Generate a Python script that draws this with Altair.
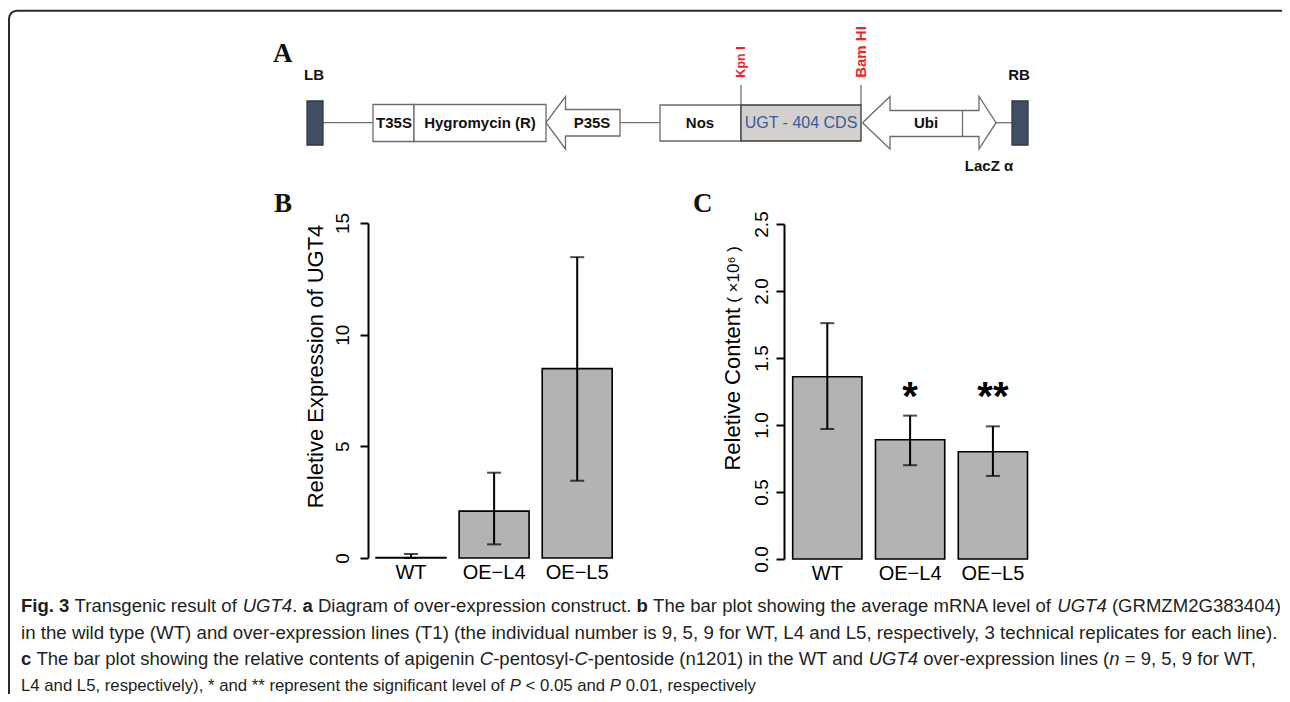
import altair as alt
import pandas as pd

# ---------------- chart values ----------------
lines = ["WT", "OE\u2212L4", "OE\u2212L5"]

expr_mean = [0.02, 2.10, 8.48]
expr_low = [0.00, 0.61, 3.46]
expr_high = [0.18, 3.82, 13.47]
expr_ticks = [0, 5, 10, 15]

cont_mean = [1.36, 0.89, 0.80]
cont_low = [0.97, 0.70, 0.62]
cont_high = [1.76, 1.07, 0.99]
cont_ticks = [0.0, 0.5, 1.0, 1.5, 2.0, 2.5]
signif = ["", "*", "**"]

# ---------------- construct diagram (drawing units) ----------------
box_name = ["LB", "T35S", "Hygromycin (R)", "Nos", "UGT - 404 CDS", "RB"]
box_x0 = [307, 373, 414, 660, 741, 1012]
box_x1 = [323, 414, 546, 741, 861, 1028]
box_y0 = [101, 104.5, 104.5, 105, 105, 101]
box_y1 = [145, 141.5, 141.5, 141, 141, 145]
box_fill = ["#3f4e62", "white", "white", "white", "#d3d0ce", "#3f4e62"]
box_stroke = ["#2e3848", "#6b6b6b", "#6b6b6b", "#6b6b6b", "#3a3a3a", "#2e3848"]

seg_x0 = [323, 620, 996, 741, 861, 962.5]
seg_x1 = [373, 660, 1012, 741, 861, 962.5]
seg_y0 = [122.7, 122.7, 122.7, 85, 85, 110.5]
seg_y1 = [122.7, 122.7, 122.7, 105, 105, 136.5]

p35s_x = [546, 565.5, 565.5, 620, 620, 565.5, 565.5, 546]
p35s_y = [122.7, 96.5, 109.5, 109.5, 136, 136, 149, 122.7]
ubi_x = [862.5, 890, 890, 979, 979, 996, 979, 979, 890, 890, 862.5]
ubi_y = [122.7, 96.5, 110.5, 110.5, 96.5, 122.7, 149, 136.5, 136.5, 149, 122.7]

lab_text = ["LB", "RB", "T35S", "Hygromycin (R)", "P35S", "Nos", "Ubi", "LacZ \u03b1"]
lab_x = [314, 1019, 394, 480, 592, 700, 926, 989]
lab_y = [75, 75, 123, 123, 123, 123, 123, 166]

site_text = ["Kpn I", "Bam HI"]
site_x = [741, 861]
site_y = [62, 52]

letter_text = ["A", "B", "C"]
letter_x = [273, 274, 693]
letter_y = [62, 212, 212]

# ---------------- caption ----------------
caption_lines = [
    [("bold", "Fig. 3"), ("reg", " Transgenic result of "), ("ital", "UGT4"), ("reg", ". "),
     ("bold", "a"), ("reg", " Diagram of over-expression construct. "), ("bold", "b"),
     ("reg", " The bar plot showing the average mRNA level of "), ("ital", "UGT4"),
     ("reg", " (GRMZM2G383404)")],
    [("reg", "in the wild type (WT) and over-expression lines (T1) (the individual number is 9, 5, 9 "
             "for WT, L4 and L5, respectively, 3 technical replicates for each line).")],
    [("bold", "c"), ("reg", " The bar plot showing the relative contents of apigenin "), ("ital", "C"),
     ("reg", "-pentosyl-"), ("ital", "C"), ("reg", "-pentoside (n1201) in the WT and "), ("ital", "UGT4"),
     ("reg", " over-expression lines ("), ("ital", "n"), ("reg", " = 9, 5, 9 for WT,")],
    [("reg", "L4 and L5, respectively), * and ** represent the significant level of "), ("ital", "P"),
     ("reg", " < 0.05 and "), ("ital", "P"), ("reg", " 0.01, respectively")],
]

# Arial-compatible advance widths (per 1000 em) for caption layout
REG = dict(zip(" !\"#$%&'()*+,-./", [278, 278, 355, 556, 556, 889, 667, 191, 333, 333, 389, 584, 278, 333, 278, 278]))
REG.update({d: 556 for d in "0123456789"})
REG.update(dict(zip(":;<=>?", [278, 278, 584, 584, 584, 556])))
REG.update(dict(zip("ABCDEFGHIJKLMNOPQRSTUVWXYZ",
                    [667, 667, 722, 722, 667, 611, 778, 722, 278, 500, 667, 556, 833, 722, 778, 667, 778, 722,
                     667, 611, 722, 667, 944, 667, 667, 611])))
REG.update(dict(zip("abcdefghijklmnopqrstuvwxyz",
                    [556, 556, 500, 556, 556, 278, 556, 556, 222, 222, 500, 222, 833, 556, 556, 556, 556, 333,
                     500, 278, 556, 500, 722, 500, 500, 500])))
BOLD = dict(REG)
BOLD.update({"F": 611, "i": 278, "g": 611, "a": 556, "b": 611, "c": 556})


def units(s, style):
    t = BOLD if style == "bold" else REG
    return sum(t.get(ch, 556) for ch in s)


cap_x0 = 13.0
cap_end = [1273.0, 1274.0, 1250.0, 748.0]
cap_base = [604, 631, 657, 683]
line_fs = [(cap_end[li] - cap_x0) * 1000.0 / sum(units(s, st) for st, s in segs)
           for li, segs in enumerate(caption_lines)]

cap_rows = []
for li, segs in enumerate(caption_lines):
    cum = 0
    f = line_fs[li]
    for st, s in segs:
        lead = len(s) - len(s.lstrip(" "))
        cap_rows.append({"x": cap_x0 + (cum + lead * 278) / 1000.0 * f, "y": cap_base[li],
                         "text": s.strip(), "style": st, "fs": f})
        cum += units(s, st)
cap_df = pd.DataFrame(cap_rows)

FONT = "Liberation Sans"

# ---------------- frame ----------------
frame = alt.Chart(pd.DataFrame({"a": [0]})).mark_rect(
    fill="white", fillOpacity=0, stroke="#2a2a2a", strokeWidth=2, cornerRadius=8
).encode(x=alt.value(1), x2=alt.value(1320), y=alt.value(2.7), y2=alt.value(760))

# ---------------- diagram ----------------
dx = alt.Scale(domain=[8, 1282], range=[0, 1274])
dy = alt.Scale(domain=[8, 694], range=[0, 686])

boxes_df = pd.DataFrame({"name": box_name, "x0": box_x0, "x1": box_x1, "y0": box_y0, "y1": box_y1,
                         "fill": box_fill, "stroke": box_stroke})
segs_df = pd.DataFrame({"x0": seg_x0, "x1": seg_x1, "y0": seg_y0, "y1": seg_y1})
poly_rows = []
for name, xs, ys in [("P35S", p35s_x, p35s_y), ("Ubi", ubi_x, ubi_y)]:
    for i, (px, py) in enumerate(zip(xs, ys)):
        poly_rows.append({"shape": name, "i": i, "x": px, "y": py})
poly_df = pd.DataFrame(poly_rows)
lab_df = pd.DataFrame({"text": lab_text, "x": lab_x, "y": lab_y})
site_df = pd.DataFrame({"text": site_text, "x": site_x, "y": site_y, "size": [12.5, 15]})
letter_df = pd.DataFrame({"text": letter_text, "x": letter_x, "y": letter_y})

DX = lambda f: alt.X(f, type="quantitative", scale=dx, axis=None)
DY = lambda f: alt.Y(f, type="quantitative", scale=dy, axis=None)

seg_layer = alt.Chart(segs_df).mark_rule(color="#6f6f6f", strokeWidth=1.3).encode(
    x=DX("x0"), x2="x1", y=DY("y0"), y2="y1")
box_layer = alt.Chart(boxes_df).mark_rect(strokeWidth=1.3).encode(
    x=DX("x0"), x2="x1", y=DY("y0"), y2="y1",
    fill=alt.Fill("fill:N", scale=None), stroke=alt.Stroke("stroke:N", scale=None))
poly_layer = alt.Chart(poly_df).mark_line(color="#6b6b6b", strokeWidth=1.3).encode(
    x=DX("x"), y=DY("y"), detail="shape:N", order="i:Q")
lab_layer = alt.Chart(lab_df).mark_text(font=FONT, fontWeight="bold", fontSize=15, color="#111111",
                                        align="center", baseline="middle").encode(
    x=DX("x"), y=DY("y"), text="text:N")
cds_layer = alt.Chart(pd.DataFrame({"text": ["UGT - 404 CDS"], "x": [801], "y": [123]})).mark_text(
    font=FONT, fontSize=16, color="#3b5b9b", align="center", baseline="middle").encode(
    x=DX("x"), y=DY("y"), text="text:N")
site_layer = alt.Chart(site_df).mark_text(font=FONT, fontWeight="bold", color="#e8262a", angle=270,
                                          align="center", baseline="middle").encode(
    x=DX("x"), y=DY("y"), text="text:N", size=alt.Size("size:Q", scale=None))
letter_layer = alt.Chart(letter_df).mark_text(font="Liberation Serif", fontWeight="bold", fontSize=27,
                                              color="#111111", align="left", baseline="alphabetic").encode(
    x=DX("x"), y=DY("y"), text="text:N")
diagram = alt.layer(seg_layer, box_layer, poly_layer, lab_layer, cds_layer, site_layer, letter_layer)


# ---------------- bar panels ----------------
def panel(means, lows, highs, ticks, fmt, yr, xr, pin, axis_x, title, title_x, title_y, lpad):
    df = pd.DataFrame({"line": lines, "mean": means, "low": lows, "high": highs, "sig": signif})
    xs = alt.Scale(domain=lines, range=xr, paddingInner=pin, paddingOuter=pin / 2)
    xax = alt.Axis(orient="bottom", offset=yr[0] - 686, title=None, domain=False, ticks=False, tickSize=0,
                   labelPadding=4, labelAngle=0, labelFontSize=20, labelBaseline="top", labelFont=FONT,
                   labelColor="black", zindex=2)
    ys = alt.Scale(domain=[ticks[0], ticks[-1]], range=yr, nice=False, zero=True)
    yax = alt.Axis(orient="left", offset=-axis_x, values=ticks, format=fmt, title=title, grid=False,
                   titleX=title_x, titleY=title_y, titleAngle=270, titleAlign="center",
                   titleBaseline="alphabetic", titleFont=FONT, titleFontSize=22, titleFontWeight="normal",
                   titleColor="black", labelAngle=270, labelAlign="center", labelBaseline="alphabetic",
                   labelPadding=lpad, labelFontSize=19, labelFont=FONT, labelColor="black", tickSize=8,
                   tickWidth=2, tickColor="black", domainColor="black", domainWidth=2, zindex=2)
    X = alt.X("line:N", scale=xs, axis=xax, sort=lines)
    Y = lambda f: alt.Y(f, type="quantitative", scale=ys, axis=yax)
    base = alt.Chart(df)
    bars = base.mark_bar(fill="#b3b3b3", stroke="black", strokeWidth=1.6).encode(x=X, y=Y("mean"))
    err = base.mark_rule(color="black", strokeWidth=2).encode(x=X, y=Y("low"), y2="high")
    cap_hi = base.mark_tick(color="black", thickness=2, size=14).encode(x=X, y=Y("high"))
    cap_lo = base.mark_tick(color="black", thickness=2, size=14).encode(x=X, y=Y("low"))
    return df, X, [bars, err, cap_hi, cap_lo]


dfB, XB, layersB = panel(expr_mean, expr_low, expr_high, expr_ticks, "d", [550, 215],
                         [361.45, 610.75], 0.158, 360, "Reletive Expression of UGT4", -45.5, 358, 12)
panelB = alt.layer(*layersB)

dfC, XC, layersC = panel(cont_mean, cont_low, cont_high, cont_ticks, ".1f", [551, 216],
                         [777.9, 1026.3], 0.164, 776, "Reletive Content", -45, 380.7, 9)
stars = alt.Chart(dfC).mark_text(font=FONT, fontWeight="bold", fontSize=40, color="black",
                                 align="center", baseline="alphabetic").encode(
    x=XC, y=alt.value(402), text="sig:N")
panelC = alt.layer(*layersC, stars)

unit_note = alt.Chart(pd.DataFrame({"t": ["( \u00d710\u2076 )"]})).mark_text(
    font=FONT, fontSize=17, color="black", angle=270, align="center", baseline="alphabetic").encode(
    x=alt.value(731), y=alt.value(266.5), text="t:N")

# ---------------- caption layers ----------------
cap_layers = []
for st, extra in [("reg", {}), ("bold", {"fontWeight": "bold"}), ("ital", {"fontStyle": "italic"})]:
    sub = cap_df[cap_df["style"] == st]
    cap_layers.append(alt.Chart(sub).mark_text(font=FONT, color="#231f20", align="left",
                                               baseline="alphabetic", **extra).encode(
        x=alt.X("x:Q", scale=None, axis=None), y=alt.Y("y:Q", scale=None, axis=None), text="text:N",
        size=alt.Size("fs:Q", scale=None)))

chart = alt.layer(frame, diagram, panelB, panelC, unit_note, *cap_layers).resolve_scale(
    x="independent", y="independent"
).properties(
    width=1274, height=686, autosize=alt.AutoSizeParams(type="none"), padding=0
).configure_view(stroke=None)

chart.save("out.html", embed_options={"renderer": "svg", "actions": False})
